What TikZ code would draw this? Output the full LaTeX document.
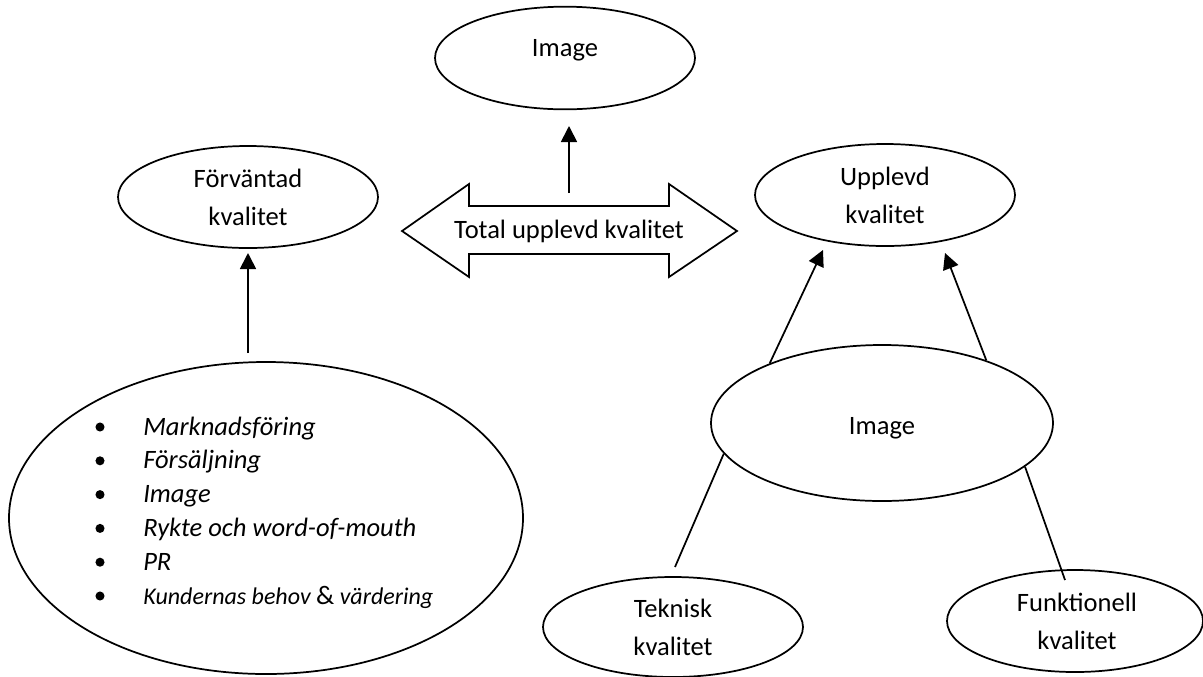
\documentclass[tikz,border=0pt]{standalone}
\usepackage{fontspec}
\setmainfont{Carlito}
\usetikzlibrary{shapes.geometric,arrows.meta}
\begin{document}
\begin{tikzpicture}[x=0.75pt,y=-0.75pt,
  shape line/.style={line width=1.3pt},
  oval/.style={shape line, draw, ellipse, inner sep=0pt},
  label text/.style={font=\fontsize{19.9}{28.5}\selectfont, align=center, inner sep=0pt},
  list text/.style={font=\fontsize{19.9}{25}\selectfont\itshape, anchor=base west, inner sep=0pt},
  bullet/.style={circle, fill=black, inner sep=0pt, minimum size=6.8pt},
  arr/.style={shape line, -{Triangle[length=12pt,width=12pt]}},
  link/.style={shape line}]
\fill[white] (0,0) rectangle (1203,676);
\useasboundingbox (0,0) rectangle (1203,676);

% ovals
\node[oval, minimum width=195pt, minimum height=77pt]   (imgtop) at (565,58)  {};
\node[oval, minimum width=195pt, minimum height=76.5pt] (forv)   at (248,197) {};
\node[oval, minimum width=195pt, minimum height=76.5pt] (upp)    at (885,195) {};
\node[oval, minimum width=256.5pt, minimum height=117pt] (img)   at (882,423) {};
\node[oval, minimum width=385.5pt, minimum height=234pt] (big)   at (266,518) {};
\node[oval, minimum width=195pt, minimum height=75pt]   (tek)    at (673,627) {};
\node[oval, minimum width=192pt, minimum height=76.5pt] (fun)    at (1075,621) {};

% labels inside the ovals
\node[label text] (imgtopL) at (565,50)  {Image};
\node[label text] (forvL)   at (248,197) {Förväntad\\kvalitet};
\node[label text] (uppL)    at (885,195) {Upplevd\\kvalitet};
\node[label text] (imgL)    at (882,428) {Image};
\node[label text] (tekL)    at (673,627) {Teknisk\\kvalitet};
\node[label text] (funL)    at (1077,621) {Funktionell\\kvalitet};

% double-headed block arrow
\draw[shape line, line join=miter] (402,231) -- (469,184) -- (469,206) -- (669,206)
  -- (669,184) -- (737,231) -- (669,277) -- (669,254) -- (469,254) -- (469,277) -- cycle;
\node[label text] (total) at (569,231) {Total upplevd kvalitet};

% bullet list
\foreach \i/\t in {1/Marknadsföring, 2/Försäljning, 3/Image, 4/Rykte och word-of-mouth, 5/PR}{
  \node[bullet] (b\i) at (100,{435+33.8*(\i-1)-8}) {};
  \node[list text] (l\i) at (143,{435+33.8*(\i-1)}) {\t};
}
\node[bullet] (b6) at (100,{435+33.8*5-8}) {};
\node[list text, font=\fontsize{18}{22}\selectfont\itshape] (l6) at (143,{435+33.8*5})
  {Kundernas behov {\upshape\fontsize{20}{22}\selectfont\&} värdering};

% connector end points
\coordinate (fa) at (248,353);
\coordinate (fb) at (248,253);
\coordinate (ta) at (569,193);
\coordinate (tb) at (569,126);
\coordinate (ua) at (823,250);
\coordinate (ub) at (945,253);
\coordinate (ka) at (675,567);
\coordinate (kb) at (1065,580);

% connectors
\draw[arr] (fa) -- (fb);
\draw[arr] (ta) -- (tb);
\draw[arr] (img.152) -- (ua);
\draw[arr] (img.31.5) -- (ub);
\draw[link] (img.191.5) -- (ka);
\draw[link] (img.-17.3) -- (kb);
\end{tikzpicture}
\end{document}
